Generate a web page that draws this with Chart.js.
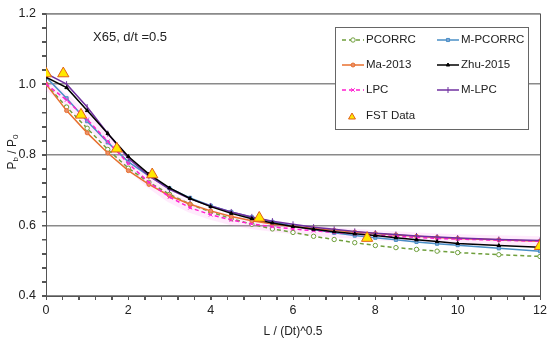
<!DOCTYPE html>
<html>
  <head>
    <script src="https://cdn.jsdelivr.net/npm/chart.js"></script>
    <style>
      body { margin: 0; background: #fff; }
      #wrap { width: 550px; height: 339px; }
    </style>
  </head>
  <body>
    <div id="wrap"><canvas id="chart"></canvas></div>
    <script>
      // data
      var xs = [0, 0.5, 1, 1.5, 2, 2.5, 3, 3.5, 4, 4.5, 5, 5.5, 6, 6.5, 7, 7.5, 8, 8.5, 9, 9.5, 10, 11, 12];
      var pcorrc  = [1.0, 0.935, 0.875, 0.815, 0.762, 0.722, 0.688, 0.660, 0.638, 0.619, 0.603, 0.590, 0.580, 0.569, 0.560, 0.551, 0.543, 0.537, 0.532, 0.527, 0.523, 0.517, 0.512];
      var mpcorrc = [1.02, 0.960, 0.895, 0.835, 0.780, 0.740, 0.705, 0.678, 0.656, 0.638, 0.623, 0.610, 0.598, 0.588, 0.579, 0.571, 0.565, 0.559, 0.553, 0.548, 0.544, 0.535, 0.527];
      var ma2013  = [1.0, 0.925, 0.862, 0.805, 0.755, 0.716, 0.684, 0.660, 0.641, 0.625, 0.613, 0.604, 0.597, 0.591, 0.586, 0.581, 0.577, 0.573, 0.569, 0.566, 0.563, 0.559, 0.555];
      var zhu2015 = [1.02, 0.990, 0.925, 0.860, 0.795, 0.745, 0.706, 0.676, 0.653, 0.634, 0.619, 0.607, 0.597, 0.589, 0.582, 0.576, 0.571, 0.565, 0.559, 0.554, 0.549, 0.543, 0.538];
      var lpc     = [1.0, 0.955, 0.900, 0.838, 0.775, 0.722, 0.680, 0.650, 0.630, 0.615, 0.604, 0.596, 0.590, 0.585, 0.580, 0.576, 0.572, 0.569, 0.566, 0.563, 0.561, 0.558, 0.555];
      var mlpc    = [1.03, 1.0, 0.935, 0.860, 0.790, 0.740, 0.702, 0.675, 0.655, 0.638, 0.624, 0.612, 0.603, 0.595, 0.589, 0.583, 0.578, 0.574, 0.570, 0.567, 0.564, 0.560, 0.557];
      var fstX = [0, 0.42, 0.85, 1.72, 2.58, 5.18, 7.8, 12];
      var fstY = [1.03, 1.03, 0.913, 0.817, 0.744, 0.621, 0.564, 0.541];

      var yTicks = [0.4, 0.6, 0.8, 1.0, 1.2];
      var xTicks = [0, 2, 4, 6, 8, 10, 12];

      function pts(xv, yv) {
        return xv.map(function (x, i) { return { x: x, y: yv[i] }; });
      }
      function near(v, list) {
        return list.some(function (t) { return Math.abs(v - t) < 1e-6; });
      }

      var FONT = 'Liberation Sans, Arial, sans-serif';

      var series = [
        { label: 'PCORRC', data: pcorrc, color: '#6f9f3c', dash: [4, 3], style: 'circle', fill: '#ffffff', r: 2.2, order: 6 },
        { label: 'M-PCORRC', data: mpcorrc, color: '#4a8fc6', dash: [], style: 'rect', fill: '#7fa6d6', r: 2.2, order: 5 },
        { label: 'Ma-2013', data: ma2013, color: '#e8702f', dash: [], style: 'circle', fill: '#e8906a', r: 2, order: 4 },
        { label: 'Zhu-2015', data: zhu2015, color: '#000000', dash: [], style: 'triangle', fill: '#000000', r: 2, order: 1 },
        { label: 'LPC', data: lpc, color: '#ff1fd0', dash: [4, 3], style: 'crossRot', fill: '#ff1fd0', r: 2.5, order: 3 },
        { label: 'M-LPC', data: mlpc, color: '#7030a0', dash: [], style: 'line', fill: '#7030a0', r: 3, order: 2 }
      ];

      var datasets = series.map(function (s) {
        return {
          label: s.label,
          data: pts(xs, s.data),
          showLine: true,
          borderColor: s.color,
          borderWidth: 1.5,
          borderDash: s.dash,
          pointStyle: s.style,
          pointRotation: s.style === 'line' ? 90 : 0,
          pointRadius: s.r,
          pointBorderWidth: 1,
          pointBorderColor: s.color,
          pointBackgroundColor: s.fill,
          order: s.order
        };
      });
      // faint pink haze around the LPC curve
      datasets.push({
        label: 'band',
        data: pts(xs, lpc),
        showLine: true,
        borderColor: 'rgba(255,130,235,0.16)',
        borderWidth: 10,
        pointRadius: 0,
        order: 10
      });
      datasets.push({
        label: 'FST Data',
        data: pts(fstX, fstY),
        showLine: false,
        pointStyle: 'triangle',
        pointRadius: 6.5,
        pointBackgroundColor: '#ffe800',
        pointBorderColor: '#e0601a',
        pointBorderWidth: 1,
        order: 0
      });

      // legend, axis titles, frame, minor ticks, note
      var extras = {
        id: 'extras',
        afterDraw: function (chart) {
          var c = chart.ctx, a = chart.chartArea;
          c.save();
          c.strokeStyle = '#555';
          c.lineWidth = 1;
          c.beginPath();
          c.moveTo(a.right + 0.5, a.top);
          c.lineTo(a.right + 0.5, a.bottom);
          // tick marks on both axes
          chart.scales.x.ticks.forEach(function (t) {
            var px = Math.round(chart.scales.x.getPixelForValue(t.value)) + 0.5;
            c.moveTo(px, a.bottom);
            c.lineTo(px, a.bottom + 4);
          });
          chart.scales.y.ticks.forEach(function (t) {
            var py = Math.round(chart.scales.y.getPixelForValue(t.value)) + 0.5;
            c.moveTo(a.left - 4, py);
            c.lineTo(a.left, py);
          });
          c.stroke();
          c.strokeStyle = '#8a8a8a';
          c.beginPath();
          c.moveTo(a.left, a.top + 0.5);
          c.lineTo(a.right, a.top + 0.5);
          c.stroke();

          c.fillStyle = '#222';
          c.font = '13px ' + FONT;
          c.textBaseline = 'middle';
          c.textAlign = 'left';
          c.fillText('X65, d/t =0.5', 93, 37);

          c.font = '12px ' + FONT;
          c.textAlign = 'center';
          c.fillText('L / (Dt)^0.5', (a.left + a.right) / 2, 332);

          // y title with subscripts
          c.save();
          c.translate(13, 152);
          c.rotate(-Math.PI / 2);
          var parts = [['P', 12, 0], ['b', 8, 3], [' / P', 12, 0], ['0', 8, 3]];
          var w = 0;
          parts.forEach(function (p) { c.font = p[1] + 'px ' + FONT; w += c.measureText(p[0]).width; });
          var x = -w / 2;
          c.textAlign = 'left';
          parts.forEach(function (p) {
            c.font = p[1] + 'px ' + FONT;
            c.fillText(p[0], x, p[2]);
            x += c.measureText(p[0]).width;
          });
          c.restore();

          // legend box
          var bx = 335, by = 27, bw = 193, bh = 102;
          c.fillStyle = '#fff';
          c.fillRect(bx, by, bw, bh);
          c.strokeStyle = '#666';
          c.strokeRect(bx + 0.5, by + 0.5, bw, bh);
          var cols = [342, 437], rows = [40, 65, 90, 116];
          series.forEach(function (s, i) {
            var x0 = cols[i % 2], y = rows[Math.floor(i / 2)];
            c.strokeStyle = s.color;
            c.lineWidth = 1.5;
            c.setLineDash(s.dash);
            c.beginPath();
            c.moveTo(x0, y);
            c.lineTo(x0 + 22, y);
            c.stroke();
            c.setLineDash([]);
            c.lineWidth = 1;
            c.fillStyle = s.fill;
            Chart.helpers.drawPoint(c, { pointStyle: s.style, radius: s.r, rotation: s.style === 'line' ? 90 : 0, borderWidth: 1 }, x0 + 11, y);
            c.fillStyle = '#222';
            c.font = '11.5px ' + FONT;
            c.textAlign = 'left';
            c.fillText(s.label, x0 + 24, y);
          });
          c.fillStyle = '#ffe800';
          c.strokeStyle = '#e0601a';
          Chart.helpers.drawPoint(c, { pointStyle: 'triangle', radius: 4, borderWidth: 1 }, 352, 117);
          c.fillStyle = '#222';
          c.fillText('FST Data', 366, 116);
          c.restore();
        }
      };

      var ctx = document.getElementById('chart').getContext('2d');
      var chart = new Chart(ctx, {
        type: 'scatter',
        data: { datasets: datasets },
        options: {
          responsive: true,
          maintainAspectRatio: false,
          animation: false,
          layout: { padding: { top: 8, right: 10, left: 0, bottom: 0 } },
          plugins: { legend: { display: false }, tooltip: { enabled: false } },
          scales: {
            x: {
              type: 'linear', min: 0, max: 12,
              afterFit: function (s) { s.height = 43; },
              ticks: {
                stepSize: 0.4, maxTicksLimit: 100, autoSkip: false, maxRotation: 0, padding: 3,
                color: '#222', font: { family: FONT, size: 12.5 },
                callback: function (v) { return near(v, xTicks) ? String(Math.round(v)) : ''; }
              },
              grid: { drawOnChartArea: false, tickColor: '#555', tickLength: 4 },
              border: { color: '#555', width: 1 }
            },
            y: {
              min: 0.4, max: 1.2,
              afterFit: function (s) { s.width = 46; },
              ticks: {
                stepSize: 0.04, maxTicksLimit: 100, autoSkip: false, padding: 6,
                color: '#222', font: { family: FONT, size: 12.5 },
                callback: function (v) { return near(v, yTicks) ? v.toFixed(1) : ''; }
              },
              grid: {
                lineWidth: 1.5,
                color: function (c) {
                  return c.tick && near(c.tick.value, yTicks) ? '#8a8a8a' : 'rgba(0,0,0,0)';
                },
                tickColor: '#555', tickLength: 4
              },
              border: { color: '#555', width: 1 }
            }
          }
        },
        plugins: [extras]
      });
    </script>
  </body>
</html>
